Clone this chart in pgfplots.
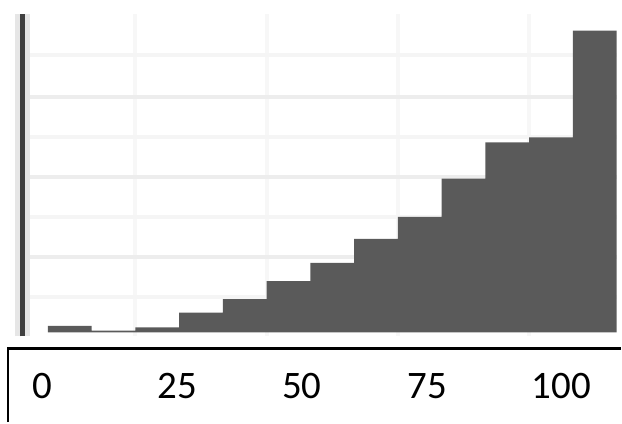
\documentclass[border=0pt]{standalone}
\usepackage{pgfplots}
\pgfplotsset{compat=1.18}
\usepackage{fontspec}
\setmainfont{Carlito}
\definecolor{barfill}{RGB}{90,90,90}
\definecolor{axisdark}{RGB}{64,64,64}
\definecolor{halo}{RGB}{230,230,230}
\definecolor{gridfaint}{RGB}{245,245,245}
\definecolor{gridmid}{RGB}{237,237,237}
\definecolor{gridv}{RGB}{247,247,247}
\begin{document}
\begin{tikzpicture}
\path (0,0) rectangle (622bp,423bp);
\begin{axis}[
  at={(22.5bp,86bp)}, anchor=south west, scale only axis,
  width=595.5bp, height=323bp,
  xmin=-0.582, xmax=13, ymin=-0.1, ymax=7.975,
  axis line style={draw=none},
  tick style={draw=none},
  xtick={2,5,8,11}, ytick={0.89,2.89,4.89,6.94},
  extra y ticks={1.89,3.89,5.89},
  xticklabels={}, yticklabels={}, extra y tick labels={},
  xmajorgrids, ymajorgrids,
  grid style={line width=4bp},
  x grid style={gridv},
  y grid style={gridfaint},
  extra y tick style={grid=major, y grid style={gridmid}},
  clip=false,
]
\addplot[const plot, fill=barfill, draw=none] coordinates {
  (0,0) (0,0.16) (1,0.04) (2,0.12) (3,0.49) (4,0.83) (5,1.28) (6,1.74)
  (7,2.34) (8,2.89) (9,3.85) (10,4.76) (11,4.88) (12,7.56) (13,7.56) (13,0)
} -- cycle;
\draw[halo, line width=15bp] (rel axis cs:0,0) -- (rel axis cs:0,1);
\draw[axisdark, line width=5bp] (rel axis cs:0,0) -- (rel axis cs:0,1);
\end{axis}
\begin{axis}[
  at={(8bp,0bp)}, anchor=south west, scale only axis,
  width=614bp, height=73.5bp,
  xmin=8, xmax=622, ymin=0, ymax=73.5,
  hide axis, clip=false,
]
\draw[black, line width=2.7bp] (axis cs:8,0) -- (axis cs:8,73.5) -- (axis cs:622,73.5);
\node[anchor=base, inner sep=0pt, font=\fontsize{39bp}{44bp}\selectfont] at (axis cs:42.5,23.5) {0};
\node[anchor=base, inner sep=0pt, font=\fontsize{39bp}{44bp}\selectfont] at (axis cs:177.5,23.5) {25};
\node[anchor=base, inner sep=0pt, font=\fontsize{39bp}{44bp}\selectfont] at (axis cs:302.5,23.5) {50};
\node[anchor=base, inner sep=0pt, font=\fontsize{39bp}{44bp}\selectfont] at (axis cs:428,23.5) {75};
\node[anchor=base, inner sep=0pt, font=\fontsize{39bp}{44bp}\selectfont] at (axis cs:562.5,23.5) {100};
\end{axis}
\end{tikzpicture}
\end{document}
